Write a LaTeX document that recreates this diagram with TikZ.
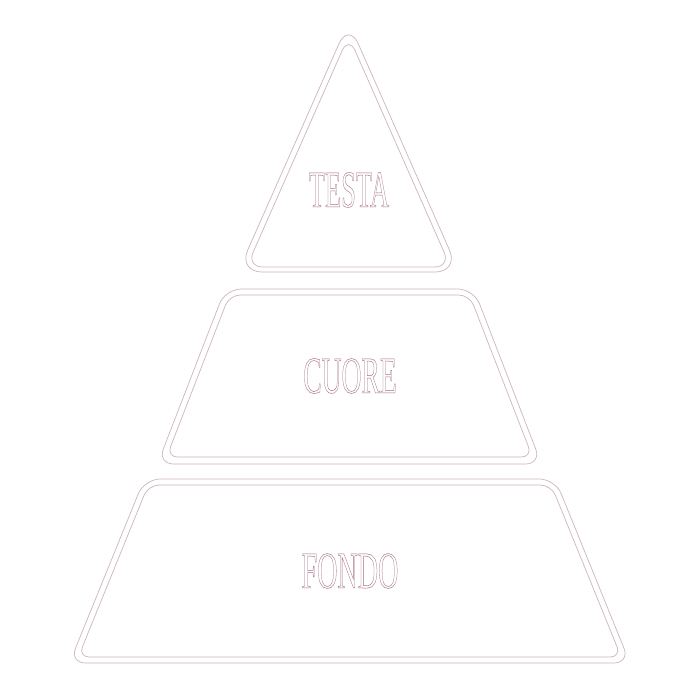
\documentclass[tikz,border=0pt]{standalone}
\usepackage{fontspec}
\setmainfont{Liberation Serif}
\definecolor{edgec}{RGB}{205,180,192}
\definecolor{inkc}{RGB}{165,110,135}
\newcommand{\outlinetext}[1]{\special{pdf:literal direct 1 Tr 0.5 w}#1\special{pdf:literal direct 0 Tr}}
\begin{document}
\begin{tikzpicture}[x=1pt,y=-1pt,
  shapeout/.style={draw=edgec, line width=0.7pt, fill=white},
  shapein/.style={draw=edgec, line width=0.7pt},
  layerlabel/.style={font=\fontsize{52}{52}\selectfont, text=inkc, inner sep=0pt}]
\useasboundingbox[fill=white] (0,0) rectangle (700,700);
% top triangle
\draw[shapeout, rounded corners=24pt] (348.6,272) -- (238,272) -- (348.6,22) -- (459.2,272) -- cycle;
\draw[shapein, rounded corners=16pt] (348.6,267) -- (246.6,267) -- (348.6,36) -- (450.6,267) -- cycle;
% middle trapezoid
\draw[shapeout, rounded corners=16pt] (349.5,464) -- (157.5,464) -- (225.2,289) -- (473.8,289) -- (541.5,464) -- cycle;
\draw[shapein, rounded corners=11pt] (349.5,457) -- (166.6,457) -- (229.4,295) -- (469.6,295) -- (532.4,457) -- cycle;
% bottom trapezoid
\draw[shapeout, rounded corners=16pt] (349.75,663) -- (69.5,663) -- (144.3,479) -- (555.2,479) -- (630,663) -- cycle;
\draw[shapein, rounded corners=11pt] (349.75,657) -- (78.3,657) -- (148.25,485) -- (551.25,485) -- (621.2,657) -- cycle;
% labels
\node[layerlabel] (testa) at (349,190) {\scalebox{0.51}[1]{\outlinetext{TESTA}}};
\node[layerlabel] (cuore) at (350,376) {\scalebox{0.53}[1]{\outlinetext{CUORE}}};
\node[layerlabel] (fondo) at (350,571) {\scalebox{0.54}[1]{\outlinetext{FONDO}}};
\end{tikzpicture}
\end{document}
